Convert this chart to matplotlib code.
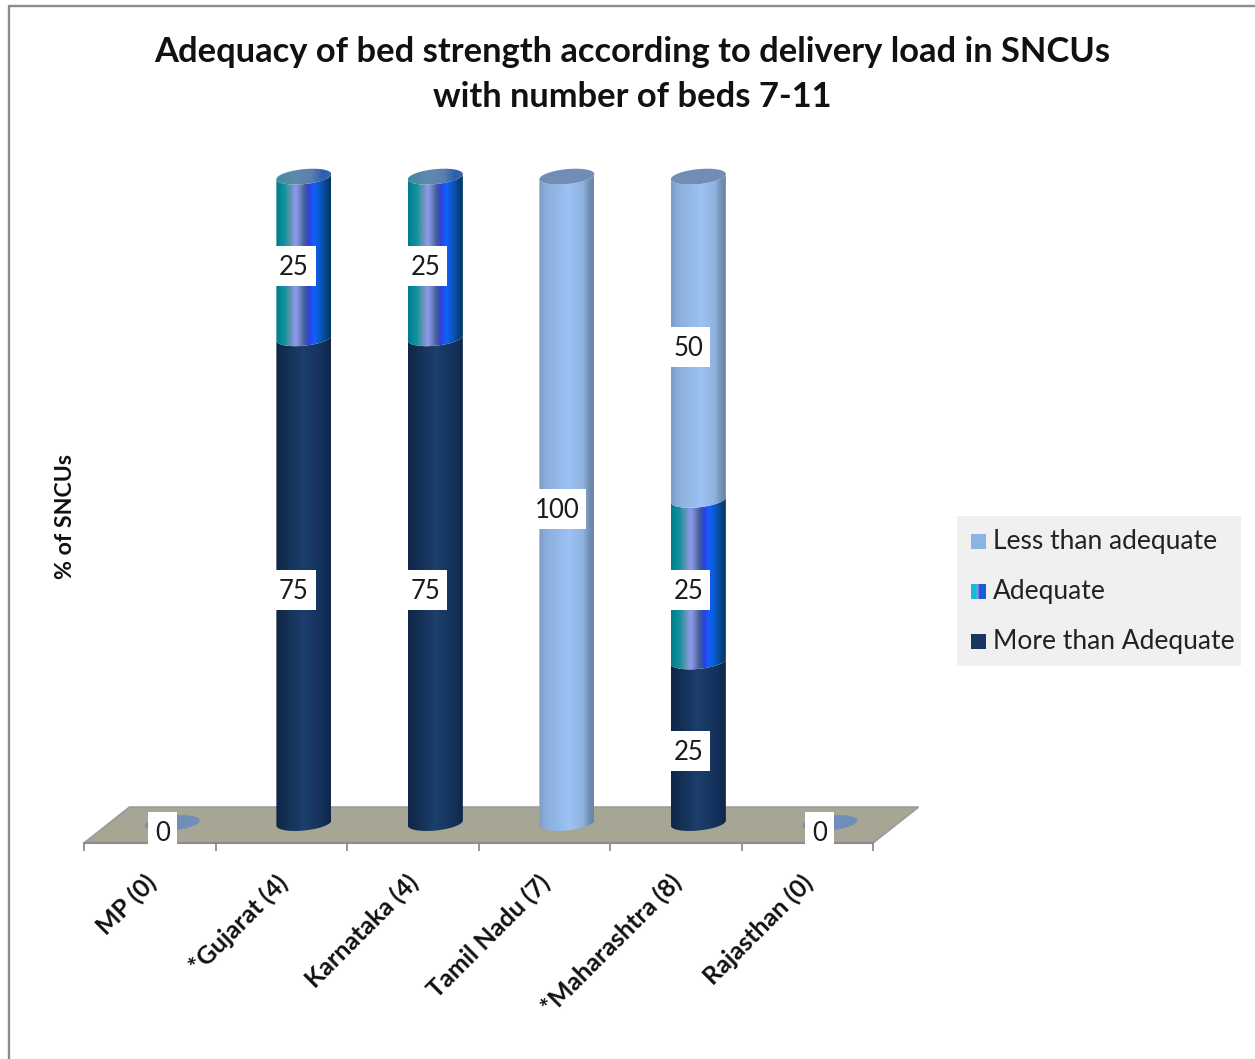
import numpy as np
import matplotlib
matplotlib.use('Agg')
import matplotlib.pyplot as plt
from matplotlib.colors import LinearSegmentedColormap
from matplotlib.lines import Line2D
from matplotlib.patches import PathPatch, Polygon, Rectangle
from matplotlib.path import Path
from matplotlib.transforms import IdentityTransform, ScaledTranslation

plt.rcParams['font.family'] = ['Lato', 'DejaVu Sans']

categories = ['MP (0)', '*Gujarat (4)', 'Karnataka (4)', 'Tamil Nadu (7)', '*Maharashtra (8)', 'Rajasthan (0)']
more_than_adequate = [0, 75, 75, 0, 25, 0]
adequate = [0, 25, 25, 0, 25, 0]
less_than_adequate = [0, 0, 0, 100, 50, 0]
series_names = ['More than Adequate', 'Adequate', 'Less than adequate']

dark_cmap = LinearSegmentedColormap.from_list('dark', [
    (0, '#0f2646'), (0.5, '#1c3f6c'), (0.85, '#14305a'), (1, '#10264a')])
mid_cmap = LinearSegmentedColormap.from_list('mid', [
    (0, '#007c8c'), (0.16, '#12939f'), (0.26, '#5f93b4'), (0.36, '#8f9af0'), (0.44, '#6f80c0'),
    (0.52, '#3f5f98'), (0.6, '#3040dc'), (0.7, '#0f62ff'), (0.82, '#0a55b8'), (1, '#00365f')])
light_cmap = LinearSegmentedColormap.from_list('light', [
    (0, '#7d9cc6'), (0.12, '#8aaedb'), (0.55, '#9cc3f5'), (0.8, '#8fb2de'), (0.93, '#6f8cb0'), (1, '#6a86a8')])
cap_cmap = LinearSegmentedColormap.from_list('cap', [
    (0, '#3f8aa0'), (0.35, '#5f8aae'), (0.65, '#5c7fb0'), (0.85, '#2f5cb0'), (1, '#3a6aa8')])
cmaps = [dark_cmap, mid_cmap, light_cmap]

fig = plt.figure(figsize=(12.55, 10.59), dpi=100)
W, H = 1255, 1059

# frame of the original chart area, cut off at right and bottom
fig.add_artist(Line2D([8.5 / W, 8.5 / W, 1], [0, 1 - 5.5 / H, 1 - 5.5 / H], color='#8c8c8c', lw=1.7))

ax = fig.add_axes([84 / W, (H - 843) / H, 789 / W, 731 / H])
ax.set_xlim(-0.5, 5.5)
ax.set_ylim(-3.09, 110)

# cylinder shape in data units
depth_x = 0.172
half_w = 0.209
half_h = 1.16
tilt = 0.4
t = np.linspace(np.pi, 2 * np.pi, 60)


def lower_arc(x, v):
    return x + half_w * np.cos(t), v + half_h * np.sin(t) + tilt * np.cos(t)


def gradient(cmap, x, v0, v1, clip, z=3):
    g = np.linspace(0, 1, 256).reshape(1, -1)
    im = ax.imshow(g, cmap=cmap, aspect='auto', interpolation='bilinear', zorder=z,
                   extent=[x - half_w, x + half_w, v0 - 3, v1 + 3])
    patch = PathPatch(clip, transform=ax.transData, fc='none', ec='none')
    ax.add_patch(patch)
    im.set_clip_path(patch)


# floor
ax.add_patch(Polygon([(-0.5, -3.09), (5.5, -3.09), (5.5 + 0.346, 2.47), (-0.5 + 0.346, 2.47)],
                     closed=True, fc='#a7a593', ec='#9a9a9a', lw=1.2, zorder=1, clip_on=False))

label_boxes = []
for i in range(len(categories)):
    x = i + depth_x
    stack = [more_than_adequate[i], adequate[i], less_than_adequate[i]]
    base = 0
    top_cmap = None
    for val, cmap in zip(stack, cmaps):
        if val == 0:
            continue
        ax0, ay0 = lower_arc(x, base)
        ax1, ay1 = lower_arc(x, base + val)
        verts = np.column_stack([np.r_[ax0, ax1[::-1], ax0[0]], np.r_[ay0, ay1[::-1], ay0[0]]])
        gradient(cmap, x, base - half_h, base + val + half_h, Path(verts))
        label_boxes.append((i, base + val / 2, val))
        base += val
        top_cmap = cmap
    a = np.linspace(0, 2 * np.pi, 80)
    ex = x + half_w * np.cos(a)
    ey = base + half_h * np.sin(a) + tilt * np.cos(a)
    if base == 0:
        ax.fill(ex, ey, color='#6f8fba', lw=0, zorder=2)
        label_boxes.append((i, 0, 0))
    elif top_cmap is light_cmap:
        ax.fill(ex, ey, color='#6f8db5', lw=0, zorder=4)
    else:
        gradient(cap_cmap, x, base - half_h, base + half_h, Path(np.column_stack([ex, ey])), z=4)

# value labels with white boxes
ax.figure.canvas.draw()
for i, v, val in label_boxes:
    px, py = ax.transData.transform((i, v))
    px += 12.5
    py -= 9
    w = 17 + 9 * 1.5 * len(str(val)) - (0 if val else 1.5)
    ax.add_patch(Rectangle((px - w / 2, py - 20), w, 40, transform=IdentityTransform(),
                           fc='white', ec='none', zorder=5, clip_on=False))
    ax.text(px, py - 1.5, str(val), transform=IdentityTransform(), ha='center', va='center',
            fontsize=18.5, color='#1a1a1a', zorder=6)

# axes
for s in ['top', 'left', 'right']:
    ax.spines[s].set_visible(False)
ax.spines['bottom'].set_color('#8c8c8c')
ax.spines['bottom'].set_linewidth(1.5)
ax.spines['bottom'].set_zorder(2)
ax.set_yticks([])
ax.set_xticks(np.arange(-0.5, 6, 1))
ax.set_xticklabels([])
ax.tick_params(axis='x', which='major', length=5.5, width=1.3, color='#8c8c8c')
ax.set_xticks(range(len(categories)), categories, minor=True)
ax.tick_params(axis='x', which='minor', length=0, pad=20)
shift = ScaledTranslation(-6 / 100, 0, fig.dpi_scale_trans)
for lab in ax.get_xticklabels(minor=True):
    lab.set_rotation(45)
    lab.set_ha('right')
    lab.set_va('top')
    lab.set_rotation_mode('anchor')
    lab.set_fontsize(18)
    lab.set_fontweight('bold')
    lab.set_color('#111111')
    lab.set_transform(lab.get_transform() + shift)

fig.text(632 / W, 1 - 52 / H, 'Adequacy of bed strength according to delivery load in SNCUs',
         ha='center', va='center', fontsize=24.8, fontweight='bold', color='#111111')
fig.text(632 / W, 1 - 97 / H, 'with number of beds 7-11',
         ha='center', va='center', fontsize=24.8, fontweight='bold', color='#111111')
fig.text(66 / W, 1 - 517 / H, '% of SNCUs', rotation=90, ha='center', va='center',
         fontsize=16.7, fontweight='bold', color='#111111')

# legend
fig.add_artist(Rectangle((957 / W, 1 - 666 / H), 284 / W, 150 / H, transform=fig.transFigure,
                         fc='#f0f0f0', ec='none', zorder=1))
swatch_y = [541, 591, 641]
legend_names = series_names[::-1]
for y, name in zip(swatch_y, legend_names):
    fig.text(993 / W, 1 - (y + 1) / H, name, ha='left', va='center', fontsize=19, color='#222222', zorder=3)
fig.add_artist(Rectangle((971 / W, 1 - 549 / H), 15 / W, 15 / H, transform=fig.transFigure,
                         fc='#8db3e2', ec='none', zorder=2))
fig.add_artist(Rectangle((971 / W, 1 - 649 / H), 15 / W, 15 / H, transform=fig.transFigure,
                         fc='#17375e', ec='none', zorder=2))
swatch_cmap = LinearSegmentedColormap.from_list('swatch', [
    (0, '#12bcd8'), (0.3, '#18b8dc'), (0.45, '#7f9fe6'), (0.6, '#3a45b0'), (0.75, '#1060e8'), (1, '#0f5fe0')])
sax = fig.add_axes([971 / W, 1 - 599 / H, 15 / W, 15 / H], zorder=5)
sax.imshow(np.linspace(0, 1, 32).reshape(1, -1), cmap=swatch_cmap, aspect='auto')
sax.axis('off')

fig.savefig('out.png', dpi=100)
